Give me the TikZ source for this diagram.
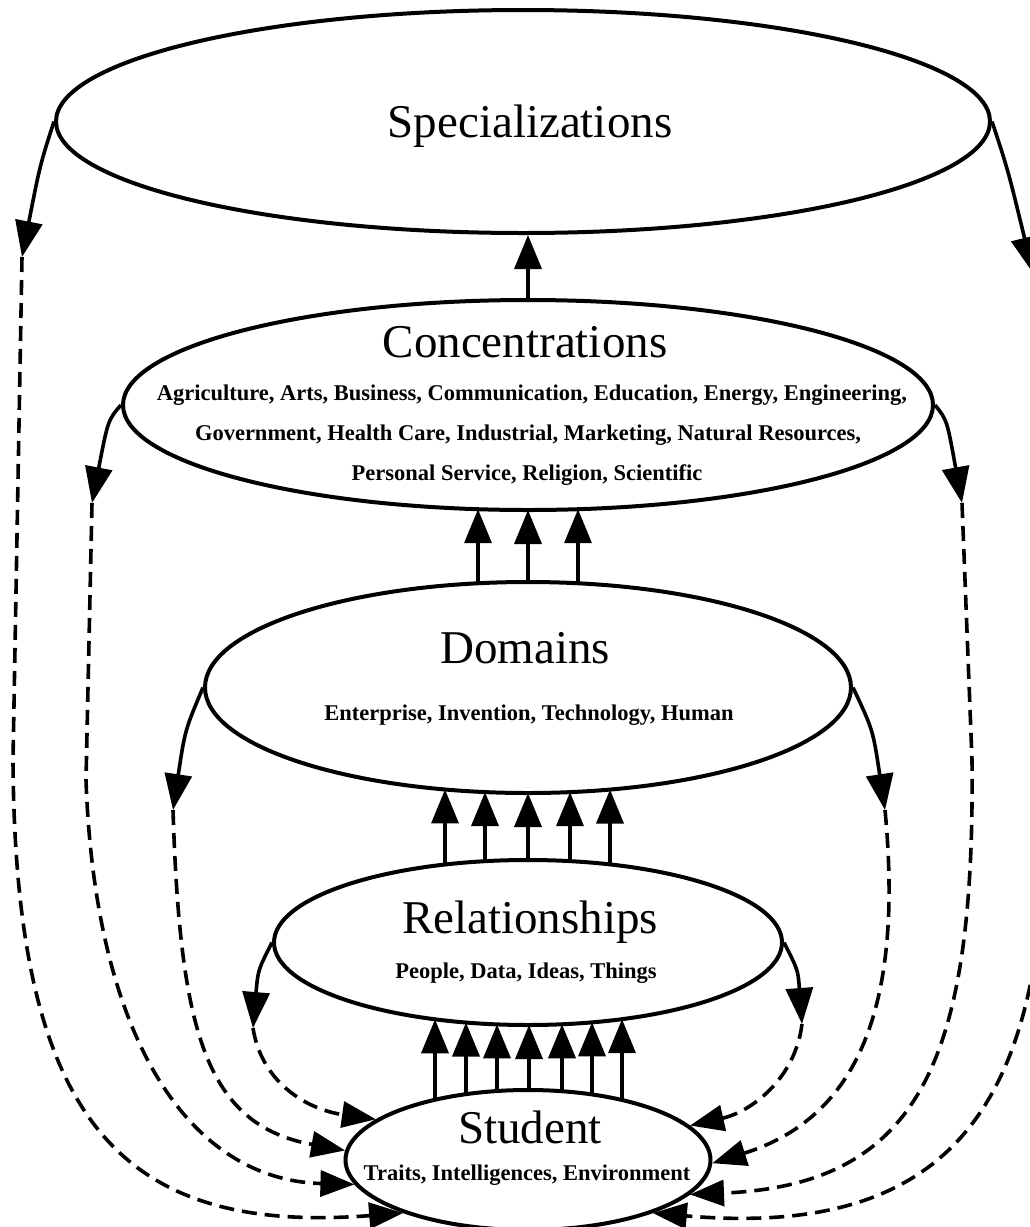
\documentclass[tikz,border=0pt]{standalone}
\usepackage{fontspec}
\setmainfont{Liberation Serif}
\usetikzlibrary{shapes,arrows.meta,calc}

\tikzset{
  layer/.style={ellipse, draw, line width=4pt, inner sep=0pt},
  title/.style={anchor=base, font=\fontsize{47}{50}\selectfont},
  list/.style={anchor=base, font=\fontsize{22.5}{26}\selectfont\bfseries},
  up/.style={line width=3.6pt, -{Triangle[length=34pt,width=27pt]}},
  down/.style={line width=3.6pt, -{Triangle[length=36pt,width=27pt]}},
  back/.style={line width=3.6pt, dash pattern=on 15pt off 8pt, -{Triangle[length=34pt,width=26pt]}}
}

\begin{document}
\begin{tikzpicture}[x=1pt,y=-1pt]
  \useasboundingbox (0,0) rectangle (1029,1227);

  %% the five levels
  \node[layer, minimum width=934pt, minimum height=223pt] (spec) at (523,121.5) {};
  \node[layer, minimum width=810pt, minimum height=210pt] (conc) at (528,405) {};
  \node[layer, minimum width=646pt, minimum height=211pt] (dom) at (528,687.5) {};
  \node[layer, minimum width=508pt, minimum height=165pt] (rel) at (528,942.5) {};
  \node[layer, minimum width=365pt, minimum height=140pt] (stud) at (528,1160) {};

  %% names and contents
  \node[title] (spectxt) at (530,137) {Specializations};
  \node[title] (conctxt) at (525,357) {Concentrations};
  \node[list] (conca) at (532,400) {Agriculture, Arts, Business, Communication, Education, Energy, Engineering,};
  \node[list] (concb) at (528,440) {Government, Health Care, Industrial, Marketing, Natural Resources,};
  \node[list] (concc) at (527,480) {Personal Service, Religion, Scientific};
  \node[title] (domtxt) at (525,663) {Domains};
  \node[list] (domlist) at (529,720) {Enterprise, Invention, Technology, Human};
  \node[title] (reltxt) at (530,933) {Relationships};
  \node[list] (rellist) at (526,978) {People, Data, Ideas, Things};
  \node[title] (studtxt) at (530,1143) {Student};
  \node[list] (studlist) at (527,1180) {Traits, Intelligences, Environment};

  %% arrows up from one level to the next
  \draw[up] (conc.north) -- (conc.north |- spec.south);
  \foreach \dx in {-50,0,50}
    \draw[up] ($(dom.center)+(\dx,{-105.5*sqrt(1-(\dx/323)*(\dx/323))})$)
           -- ($(conc.center)+(\dx,{105*sqrt(1-(\dx/405)*(\dx/405))})$);
  \foreach \dx in {-83,-43,0,42,82}
    \draw[up] ($(rel.center)+(\dx,{-82.5*sqrt(1-(\dx/254)*(\dx/254))})$)
           -- ($(dom.center)+(\dx,{105.5*sqrt(1-(\dx/323)*(\dx/323))})$);
  \foreach \dx in {-93,-62,-31,1,34,64,94}
    \draw[up] ($(stud.center)+(\dx,{-70*sqrt(1-(\dx/182.5)*(\dx/182.5))})$)
           -- ($(rel.center)+(\dx,{82.5*sqrt(1-(\dx/254)*(\dx/254))})$);

  %% arrow tips down the sides
  \coordinate (sl) at (22,257);
  \coordinate (sr) at (1033,273);
  \coordinate (cl) at (92,503);
  \coordinate (cr) at (962,503);
  \coordinate (dl) at (173,810);
  \coordinate (dr) at (885,810);
  \coordinate (rl) at (253,1028);
  \coordinate (rr) at (802,1024);

  \draw[down] (spec.west) .. controls (40,165) .. (sl);
  \draw[down] (spec.east) .. controls (1008,170) .. (sr);
  \draw[down] (conc.west) .. controls (108,420) .. (cl);
  \draw[down] (conc.east) .. controls (947,420) .. (cr);
  \draw[down] (dom.west) .. controls (185,730) .. (dl);
  \draw[down] (dom.east) .. controls (873,730) .. (dr);
  \draw[down] (rel.west) .. controls (258,970) .. (rl);
  \draw[down] (rel.east) .. controls (798,970) .. (rr);

  %% dashed feedback back to the student
  \draw[back] (sl) -- (13,760) .. controls (15,1120) and (120,1235) .. (stud.203.5);
  \draw[back] (cl) -- (86,780) .. controls (95,1040) and (190,1180) .. (stud.188.5);
  \draw[back] (dl) .. controls (180,1030) and (205,1125) .. (stud.177);
  \draw[back] (rl) .. controls (262,1085) and (310,1110) .. (stud.165);
  \draw[back] (rr) .. controls (795,1080) and (750,1112) .. (stud.12);
  \draw[back] (dr) .. controls (905,1020) and (850,1120) .. (stud.359);
  \draw[back] (cr) -- (972,760) .. controls (975,1060) and (920,1185) .. (stud.348);
  \draw[back] (sr) -- (1046,800) .. controls (1046,1090) and (965,1240) .. (stud.337.5);
\end{tikzpicture}
\end{document}
